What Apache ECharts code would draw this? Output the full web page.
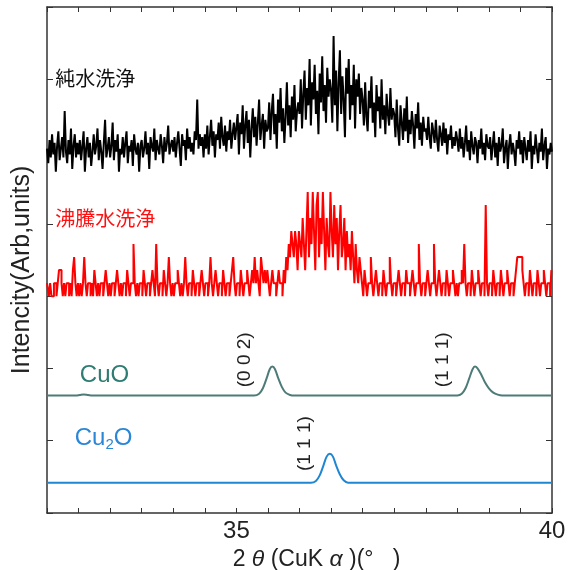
<!DOCTYPE html>
<html>
<head>
<meta charset="utf-8">
<script src="https://cdn.jsdelivr.net/npm/echarts@6/dist/echarts.min.js"></script>
<style>
    html, body { margin: 0; background: #fff; }
    #chart { width: 568px; height: 570px; }
</style>
</head>
<body>
<div id="chart"></div>
<script>
// scan: 32 -> 40 deg, 0.02 deg step (401 points)
var scanStart = 32;
var scanStep = 0.02;

// 純水洗浄 counts, one row per half degree
var pureCounts = [
    21,16,24,18,26,19,23,13,22,27,17,21,25,18,34,20,16,24,19,28,14,22,26,18,23,
    19,24,17,22,27,13,21,25,18,23,15,20,26,19,22,28,17,24,20,14,23,31,18,21,25,
    18,22,30,17,24,20,26,13,21,19,25,18,23,27,16,22,20,24,15,26,21,19,23,13,22,
    24,18,21,27,19,23,14,25,22,20,28,17,24,21,19,26,22,16,25,20,23,29,19,22,24,
    20,25,18,23,27,21,15,26,22,24,17,28,21,25,20,23,19,27,24,38,21,26,22,25,18,
    26,21,29,19,25,31,22,27,18,26,24,30,21,32,25,22,29,20,27,24,31,21,26,30,24,
    24,33,19,30,26,36,21,29,34,23,31,18,28,35,25,32,22,30,38,24,29,33,21,31,27,
    28,37,24,34,40,26,33,21,38,30,42,27,35,23,32,44,29,36,25,39,31,43,27,34,37,
    33,45,28,40,48,31,42,36,52,29,44,38,50,33,41,26,47,37,53,34,43,30,49,39,45,
    41,30,60,36,48,27,44,55,33,46,38,25,49,40,52,31,43,36,50,28,45,39,47,33,42,
    38,29,44,32,27,41,35,46,30,37,25,43,34,39,28,45,31,36,26,40,33,29,42,31,35,
    33,25,38,28,22,36,30,24,35,27,39,23,31,26,34,29,21,33,28,37,24,30,22,32,27,
    28,24,32,25,21,30,27,23,31,24,20,29,26,22,30,23,28,19,26,24,29,21,25,22,27,
    24,20,28,21,25,18,23,29,20,24,17,27,22,19,25,23,16,24,21,28,19,23,17,26,22,
    21,25,17,22,27,18,23,15,25,20,22,28,16,21,24,14,22,26,19,23,20,15,24,21,27,
    19,24,16,25,21,17,24,20,27,14,22,19,26,21,16,23,20,28,17,22,25,14,21,19,23,
    20
];

// 沸騰水洗浄 counts
var boilCounts = [
    1,1,0,1,0,0,1,1,0,1,2,2,1,0,1,0,1,1,0,1,0,2,3,1,0,
    1,0,1,0,1,3,1,0,1,1,0,1,0,2,1,0,1,0,1,1,0,1,2,1,0,
    1,0,1,1,0,1,2,1,0,1,0,1,1,0,2,1,0,1,1,4,1,0,1,0,1,
    1,0,2,1,0,1,1,0,1,2,1,0,4,1,0,1,1,0,2,1,0,1,3,1,0,
    1,0,1,1,2,1,0,1,0,1,3,1,0,1,1,0,2,1,0,1,1,0,1,2,1,
    0,1,1,0,1,3,1,0,1,2,1,0,1,1,0,2,1,0,1,1,0,1,2,3,1,
    0,1,1,0,2,1,0,1,1,2,1,0,1,2,1,3,1,2,1,0,3,2,1,2,1,
    2,1,0,1,2,1,1,0,1,2,1,1,0,2,1,3,2,4,3,5,4,3,5,4,2,
    5,4,3,6,4,2,5,8,3,6,4,8,5,2,7,8,3,6,4,8,5,2,6,4,3,
    8,5,3,7,4,6,2,5,7,3,4,6,2,5,3,4,2,5,3,1,4,2,1,3,2,
    1,0,2,1,0,1,1,3,1,0,1,2,1,0,1,1,0,2,1,0,1,1,3,1,0,
    1,1,0,1,2,1,0,1,1,0,2,1,1,0,1,2,1,0,1,1,4,1,0,1,1,
    0,1,2,1,0,1,1,4,1,0,1,2,1,0,1,1,0,2,1,0,1,1,2,1,0,
    1,0,1,1,2,1,4,1,0,1,1,0,2,1,0,1,1,2,1,0,1,1,0,7,1,
    0,1,1,0,2,1,0,1,1,0,2,1,0,1,1,2,1,0,1,1,0,1,2,3,3,
    3,3,2,1,0,1,1,0,2,1,0,1,1,0,2,1,0,1,1,2,1,0,1,1,0,
    2
];

// reference patterns [2theta, relative intensity]
var cuoProfile = [
    [32.00, 0], [32.45, 0], [32.52, 2], [32.58, 4], [32.65, 2], [32.72, 0],
    [35.28, 0], [35.36, 6], [35.42, 25], [35.48, 60], [35.53, 92], [35.57, 100],
    [35.61, 92], [35.66, 62], [35.72, 30], [35.78, 10], [35.85, 2], [35.92, 0],
    [38.50, 0], [38.57, 6], [38.63, 25], [38.69, 60], [38.74, 90], [38.78, 100],
    [38.82, 94], [38.88, 72], [38.94, 45], [39.00, 25], [39.07, 10], [39.14, 3],
    [39.21, 0], [40.00, 0]
];
var cu2oProfile = [
    [32.00, 0], [36.18, 0], [36.26, 6], [36.32, 25], [36.38, 60], [36.43, 90],
    [36.48, 100], [36.53, 90], [36.58, 60], [36.64, 28], [36.70, 8], [36.77, 0],
    [40.00, 0]
];

var xTicks = [35, 40];

// stacking of the patterns (arb. units)
var pureOffset = 4.2, pureScale = 0.04;
var boilOffset = 3.0, boilScale = 0.18;
var cuoOffset = 1.625, cu2oOffset = 0.42, refScale = 0.004;

function scan(counts, offset, scale) {
    return counts.map(function (c, i) {
        return [+(scanStart + i * scanStep).toFixed(2), offset + c * scale];
    });
}
function profile(points, offset) {
    return points.map(function (p) {
        return [p[0], offset + p[1] * refScale];
    });
}

var chart = echarts.init(document.getElementById('chart'));

var axisColor = '#333';
var font = '"Liberation Sans", Arial, sans-serif';
var jpFont = '"Noto Sans CJK JP", sans-serif';

function xAxisBase(pos) {
    return {
        type: 'value', position: pos, min: 32, max: 40, interval: 0.5,
        axisLine: { onZero: false, lineStyle: { color: axisColor, width: 1.5 } },
        axisTick: { inside: true, length: 5, lineStyle: { color: axisColor } },
        splitLine: { show: false }
    };
}
function yAxisBase(pos) {
    return {
        type: 'value', position: pos, min: 0, max: 7, interval: 1,
        axisLine: { show: true, onZero: false, lineStyle: { color: axisColor, width: 1.5 } },
        axisTick: { show: true, inside: true, length: 6, lineStyle: { color: axisColor } },
        axisLabel: { show: false },
        splitLine: { show: false }
    };
}

var xBottom = xAxisBase('bottom');
xBottom.axisLabel = {
    fontSize: 24, color: '#222', fontFamily: font, margin: 6,
    formatter: function (v) { return xTicks.indexOf(v) >= 0 ? String(v) : ''; }
};
xBottom.name = '2 {i|θ} (CuK {i|α} )(°   )';
xBottom.nameLocation = 'middle';
xBottom.nameGap = 14;
xBottom.nameTextStyle = {
    fontSize: 23, color: '#222', fontFamily: font, padding: [0, 0, 0, 34],
    rich: { i: { fontSize: 23, fontStyle: 'italic', fontFamily: font, color: '#222' } }
};
var xTop = xAxisBase('top');
xTop.axisLabel = { show: false };

var option = {
    animation: false,
    backgroundColor: '#fff',
    grid: { left: 47, right: 16, top: 7, bottom: 57, containLabel: false, outerBoundsMode: 'none' },
    xAxis: [xBottom, xTop],
    yAxis: [yAxisBase('left'), yAxisBase('right')],
    series: [
        {
            name: '純水洗浄', type: 'line', showSymbol: false,
            data: scan(pureCounts, pureOffset, pureScale),
            lineStyle: { color: '#000', width: 2 }
        },
        {
            name: '沸騰水洗浄', type: 'line', showSymbol: false, step: 'middle',
            data: scan(boilCounts, boilOffset, boilScale),
            lineStyle: { color: '#ff0000', width: 2 }
        },
        {
            name: 'CuO', type: 'line', showSymbol: false, smooth: 0.3,
            data: profile(cuoProfile, cuoOffset),
            lineStyle: { color: '#4c7b78', width: 2 }
        },
        {
            name: 'Cu2O', type: 'line', showSymbol: false, smooth: 0.3,
            data: profile(cu2oProfile, cu2oOffset),
            lineStyle: { color: '#1f86d2', width: 2 }
        }
    ]
};
chart.setOption(option);

// text labels placed in data coordinates
var labels = [
    { text: '純水洗浄', at: [32.13, 6.01], color: '#111', size: 20, family: jpFont },
    { text: '沸騰水洗浄', at: [32.13, 4.08], color: '#ff1010', size: 20, family: jpFont },
    { text: 'CuO', at: [32.52, 1.90], color: '#2f7d72', size: 24, family: font },
    { text: '{n|Cu}{s|2}{n|O}', at: [32.44, 1.03], color: '#2a86d6', size: 24, family: font,
      rich: { n: { fontSize: 24, fontFamily: font, fill: '#2a86d6' },
              s: { fontSize: 15, fontFamily: font, fill: '#2a86d6', padding: [12, 0, 0, 0] } } },
    { text: '(0 0 2)', at: [35.14, 2.12], color: '#222', size: 19, family: font, rot: true },
    { text: '(1 1 1)', at: [38.27, 2.12], color: '#222', size: 19, family: font, rot: true },
    { text: '(1 1 1)', at: [36.08, 0.96], color: '#222', size: 19, family: font, rot: true }
];
var graphics = labels.map(function (l) {
    var p = chart.convertToPixel({ xAxisIndex: 0, yAxisIndex: 0 }, l.at);
    var style = {
        text: l.text, fill: l.color, fontSize: l.size, fontFamily: l.family,
        align: l.rot ? 'center' : 'left', verticalAlign: 'middle'
    };
    if (l.rich) style.rich = l.rich;
    return {
        type: 'text', x: p[0], y: p[1], rotation: l.rot ? Math.PI / 2 : 0,
        style: style, z: 10
    };
});
// y axis title
graphics.push({
    type: 'text', x: 22, y: 270, rotation: Math.PI / 2, z: 10,
    style: {
        text: 'Intencity(Arb,units)', fill: '#222', fontSize: 25, fontFamily: font,
        align: 'center', verticalAlign: 'middle'
    }
});
chart.setOption({ graphic: graphics });
</script>
</body>
</html>
